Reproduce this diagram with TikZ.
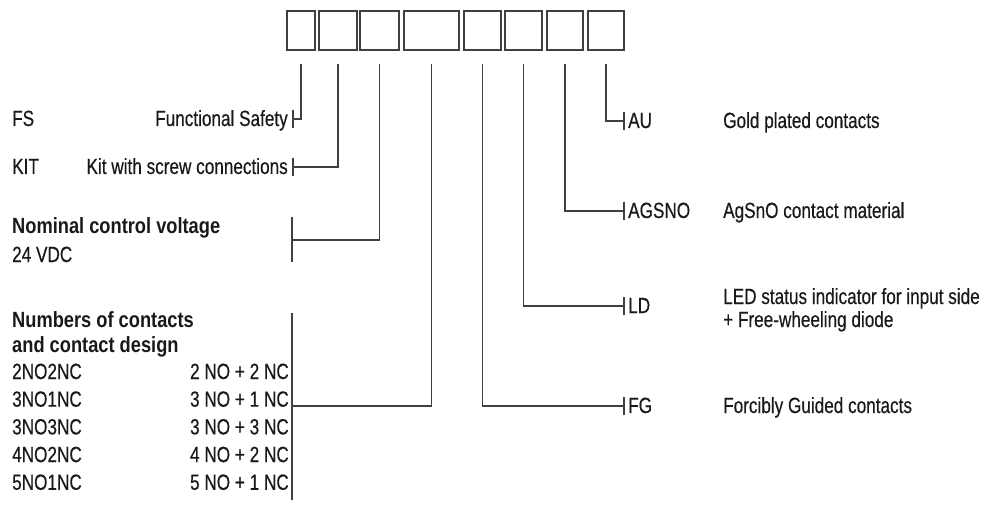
\documentclass[tikz,border=0pt]{standalone}
\usepackage{fontspec}
\setmainfont[FakeStretch=0.78, UprightFeatures={FakeBold=0.4}, BoldFeatures={FakeStretch=0.83}]{Liberation Sans}
\tikzset{
	slot/.style={draw=black!75, line width=1.4pt, minimum height=39pt, inner sep=0pt},
	lead/.style={draw=black!75, line width=1.3pt},
	txt/.style={font=\fontsize{22}{26}\selectfont, text=black!90, inner sep=0pt},
	head/.style={txt, font=\fontsize{22}{26}\selectfont\bfseries}
}
\begin{document}
\begin{tikzpicture}[x=1pt, y=-1pt]
			\useasboundingbox (0,0) rectangle (991,505);
			% type code boxes
			\node[slot, minimum width=28pt] (b1) at (301,30.5) {};
			\node[slot, minimum width=38pt] (b2) at (338,30.5) {};
			\node[slot, minimum width=39pt] (b3) at (379.5,30.5) {};
			\node[slot, minimum width=55pt] (b4) at (431.5,30.5) {};
			\node[slot, minimum width=37pt] (b5) at (482.5,30.5) {};
			\node[slot, minimum width=37pt] (b6) at (523.5,30.5) {};
			\node[slot, minimum width=36pt] (b7) at (565,30.5) {};
			\node[slot, minimum width=36pt] (b8) at (606,30.5) {};
			% tick points
			\coordinate (tFS) at (293,119);
			\coordinate (tKIT) at (293,167);
			\coordinate (tUC) at (292,240);
			\coordinate (tCon) at (292,406);
			\coordinate (tFG) at (624,406);
			\coordinate (tLD) at (624,306);
			\coordinate (tAG) at (624,211);
			\coordinate (tAU) at (624,121);
			% left side
			\node[txt, anchor=base west] (fs) at (12,126) {FS};
			\node[txt, anchor=base east] (fsTxt) at (288,126) {Functional Safety};
			\node[txt, anchor=base west] (kit) at (12,174) {KIT};
			\node[txt, anchor=base east] (kitTxt) at (288,174) {Kit with screw connections};
			\node[head, anchor=base west] (uc) at (12,234) {Nominal control voltage};
			\node[txt, anchor=base west] (vdc) at (12,262) {24 VDC};
			\node[head, anchor=base west] (con) at (12,327) {Numbers of contacts};
			\node[head, anchor=base west] (con2) at (12,352) {and contact design};
			\foreach \code/\n/\m [count=\i] in {2NO2NC/2/2, 3NO1NC/3/1, 3NO3NC/3/3, 4NO2NC/4/2, 5NO1NC/5/1} {
				\node[txt, anchor=base west] (c\i) at (12,{372+27.7*(\i-1)+7}) {\code};
				\node[txt, anchor=base east] (d\i) at (289,{372+27.7*(\i-1)+7}) {\n\ NO + \m\ NC};
			}
			% right side
			\node[txt, anchor=base west] (au) at (628,128) {AU};
			\node[txt, anchor=base west] (auTxt) at (723,128) {Gold plated contacts};
			\node[txt, anchor=base west] (ag) at (628,218) {AGSNO};
			\node[txt, anchor=base west] (agTxt) at (723,218) {AgSnO contact material};
			\node[txt, anchor=base west] (ld) at (628,313) {LD};
			\node[txt, anchor=base west] (ldTxt) at (723,304) {LED status indicator for input side};
			\node[txt, anchor=base west] (ldTxt2) at (723,327) {+ Free-wheeling diode};
			\node[txt, anchor=base west] (fg) at (628,413) {FG};
			\node[txt, anchor=base west] (fgTxt) at (723,413) {Forcibly Guided contacts};
			% leads
			\draw[lead] (b1.south) ++(0,13) |- (tFS);
			\draw[lead] (b2.south) ++(0,13) |- (tKIT);
			\draw[lead] (b3.south) ++(0,13) |- (tUC);
			\draw[lead] (b4.south) ++(0,13) |- (tCon);
			\draw[lead] (b5.south) ++(0,13) |- (tFG);
			\draw[lead] (b6.south) ++(0,13) |- (tLD);
			\draw[lead] (b7.south) ++(0,13) |- (tAG);
			\draw[lead] (b8.south) ++(0,13) |- (tAU);
			% ticks and brackets
			\foreach \t in {tFS, tKIT, tFG, tLD, tAG, tAU}
				\draw[lead] ([yshift=9pt]\t) -- ([yshift=-9pt]\t);
			\draw[lead] ([yshift=23pt]tUC) -- ([yshift=-22pt]tUC);
			\draw[lead] ([yshift=93pt]tCon) -- ([yshift=-94pt]tCon);
		\end{tikzpicture}
\end{document}
